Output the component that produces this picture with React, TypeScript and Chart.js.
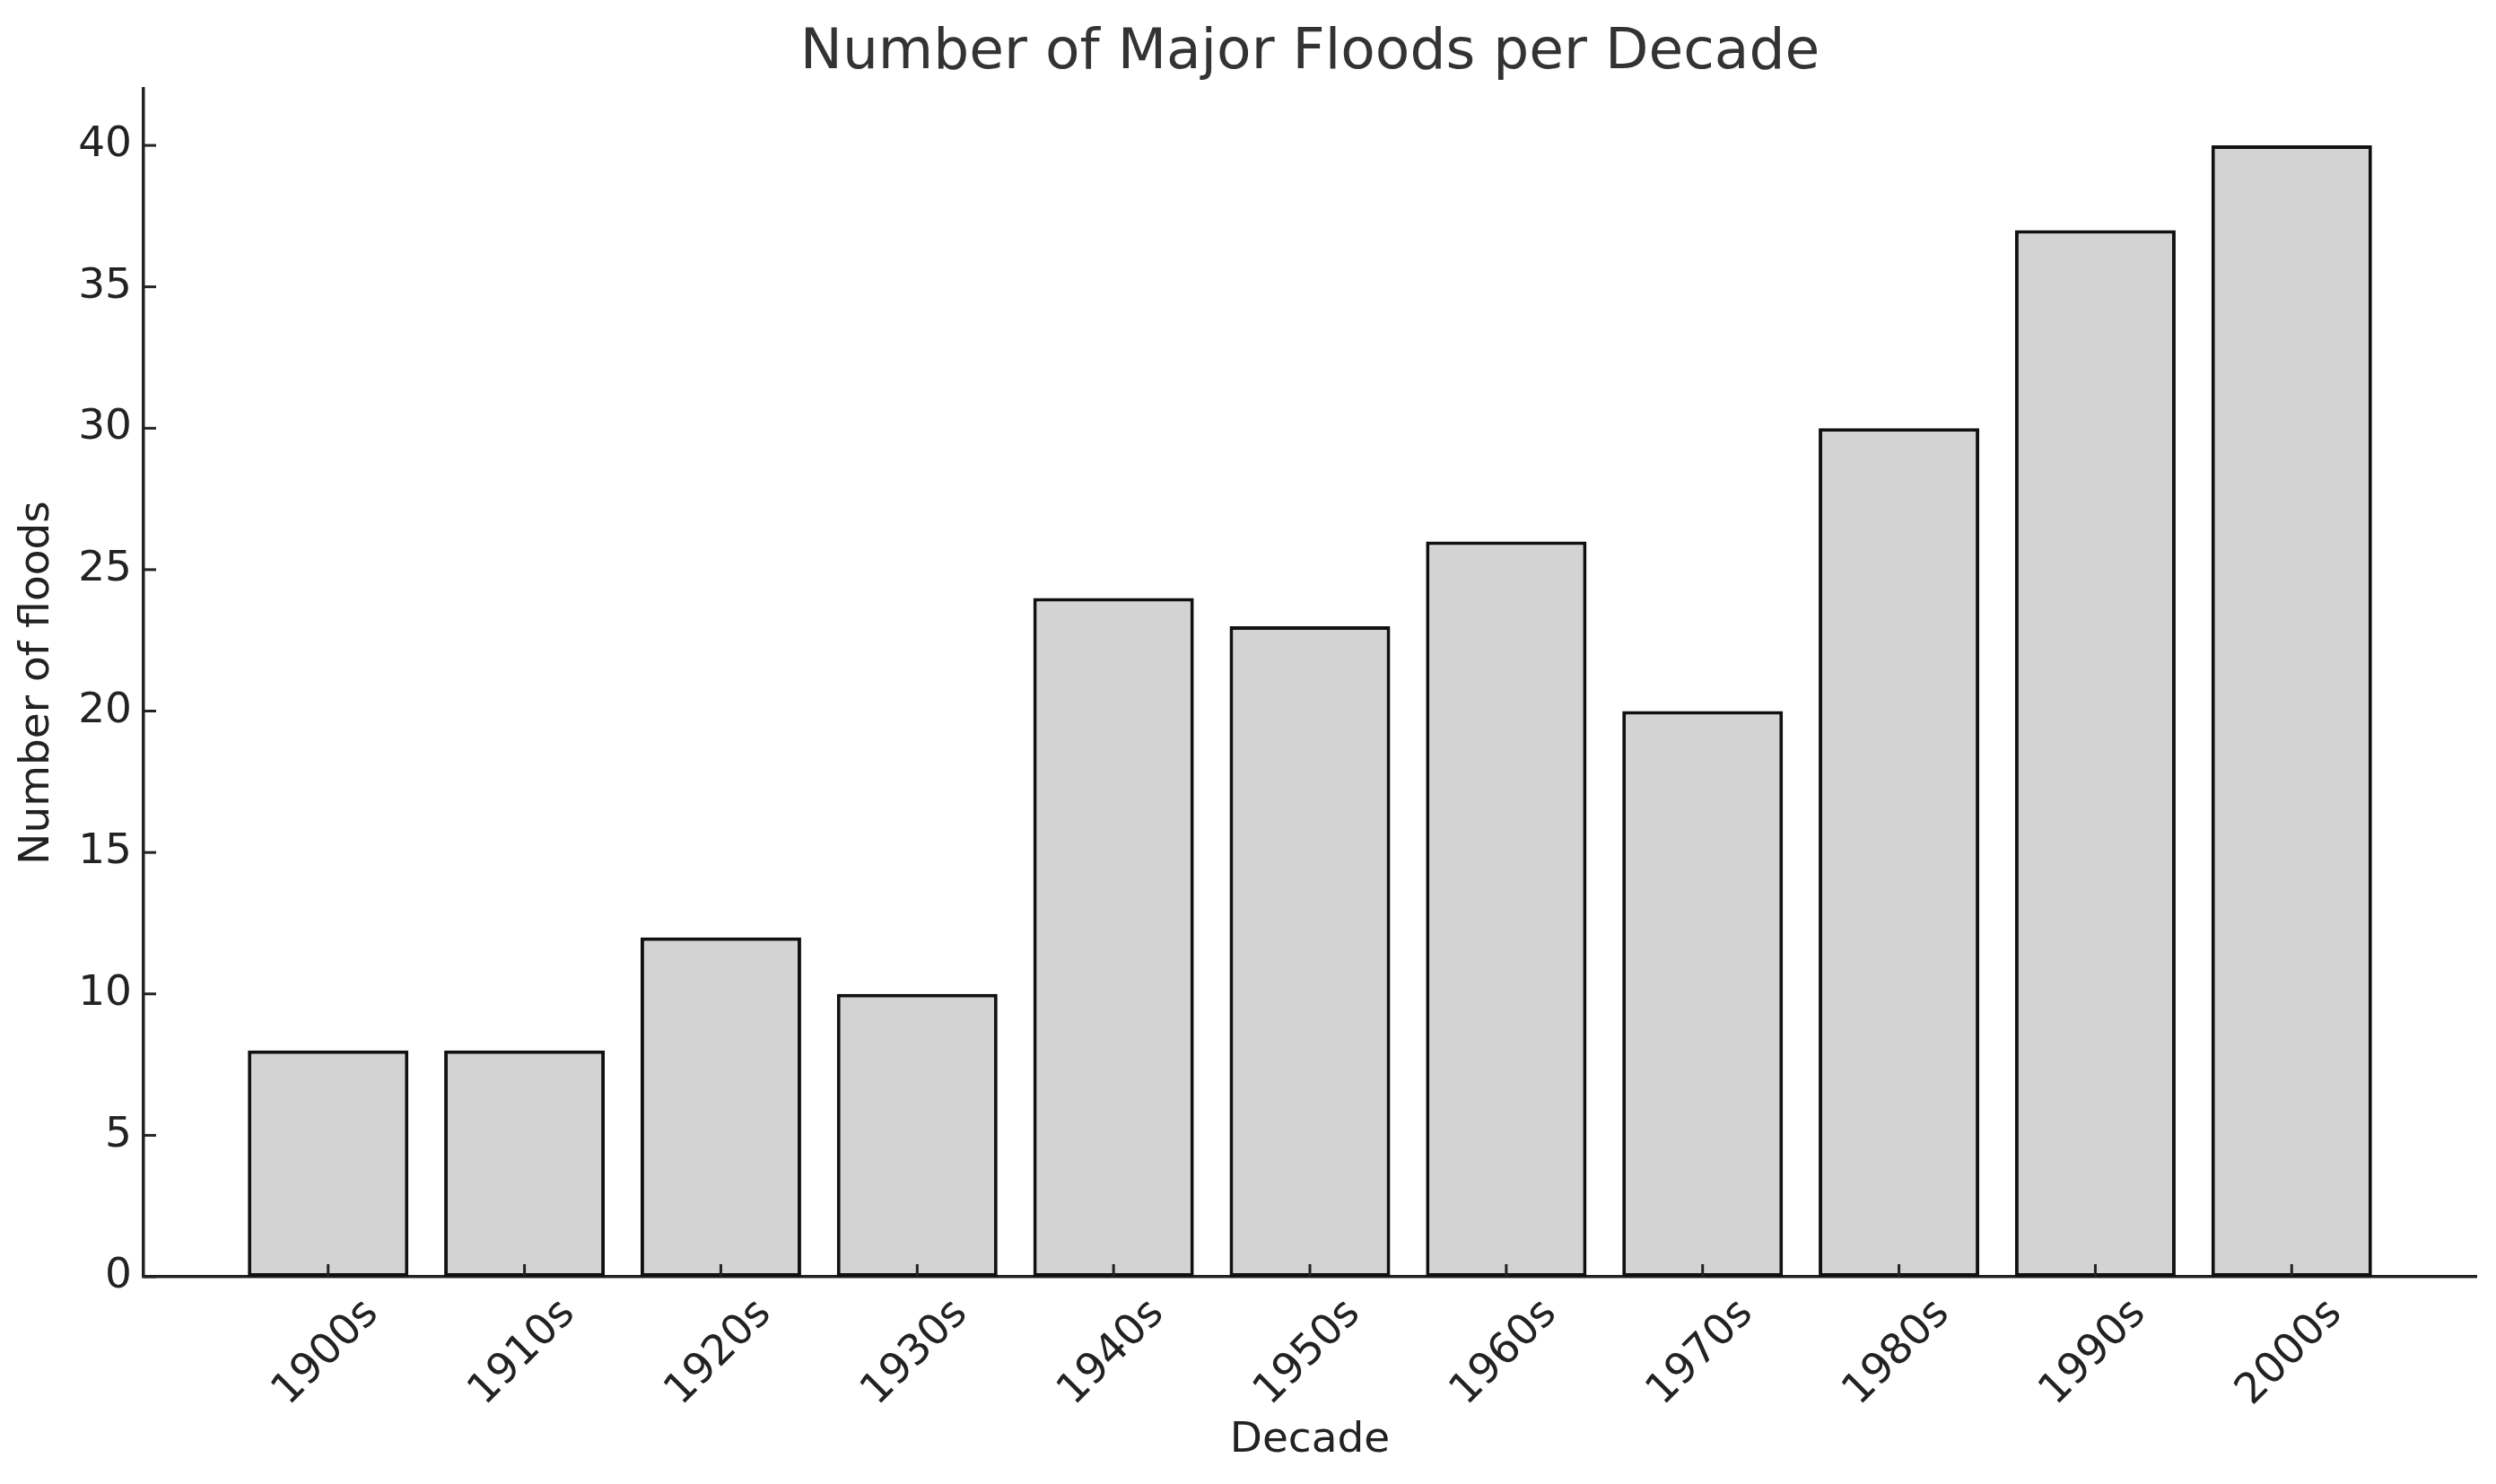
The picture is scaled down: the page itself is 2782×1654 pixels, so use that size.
import React, { useEffect, useRef } from "react";
import { Chart, registerables } from "chart.js";

Chart.register(...registerables);

const decades = ["1900s", "1910s", "1920s", "1930s", "1940s", "1950s", "1960s", "1970s", "1980s", "1990s", "2000s"];
const floods = [8, 8, 12, 10, 24, 23, 26, 20, 30, 37, 40];
const yTicks = [0, 5, 10, 15, 20, 25, 30, 35, 40];

const W = 2782;
const H = 1654;
const FONT = "'DejaVu Sans', sans-serif";

const inwardTicks = {
  id: "inwardTicks",
  afterDatasetsDraw(chart: any) {
    const { ctx, chartArea, scales } = chart;
    const len = 14;
    ctx.save();
    ctx.strokeStyle = "#222222";
    ctx.lineWidth = 3;
    scales.y.ticks.forEach((t: any) => {
      const y = scales.y.getPixelForValue(t.value);
      ctx.beginPath();
      ctx.moveTo(chartArea.left, y);
      ctx.lineTo(chartArea.left + len, y);
      ctx.stroke();
    });
    scales.x.ticks.forEach((t: any) => {
      const x = scales.x.getPixelForValue(t.value);
      ctx.beginPath();
      ctx.moveTo(x, chartArea.bottom);
      ctx.lineTo(x, chartArea.bottom - len);
      ctx.stroke();
    });
    ctx.restore();
  },
};

export default function App() {
  const ref = useRef<HTMLCanvasElement | null>(null);

  useEffect(() => {
    if (!ref.current) return;
    const chart = new Chart(ref.current, {
      type: "bar",
      data: {
        datasets: [
          {
            label: "Number of floods",
            data: floods.map((v, i) => ({ x: i, y: v })),
            backgroundColor: "#d3d3d3",
            borderColor: "#111111",
            borderWidth: 4,
            borderSkipped: false,
            barPercentage: 0.818,
            categoryPercentage: 1.0,
          },
        ],
      },
      options: {
        animation: false,
        responsive: false,
        devicePixelRatio: 1,
        layout: { padding: { left: 0, right: 22, top: 0, bottom: 0 } },
        plugins: {
          legend: { display: false },
          tooltip: { enabled: false },
          title: {
            display: true,
            fullSize: false,
            text: "Number of Major Floods per Decade",
            color: "#333333",
            font: { family: FONT, size: 63, weight: "normal", lineHeight: 1.2 },
            padding: { top: 22, bottom: 1.4 },
          },
        },
        scales: {
          x: {
            type: "linear",
            min: -0.94,
            max: 10.94,
            offset: false,
            grid: { display: false, drawTicks: false },
            border: { display: true, color: "#222222", width: 3.5 },
            afterBuildTicks: (scale: any) => {
              scale.ticks = decades.map((_, i) => ({ value: i }));
            },
            afterFit: (scale: any) => {
              scale.height = H - 1423;
              scale.paddingLeft = 0;
              scale.paddingRight = 0;
            },
            ticks: {
              autoSkip: false,
              minRotation: 45,
              maxRotation: 45,
              padding: 14,
              labelOffset: 49,
              color: "#222222",
              font: { family: FONT, size: 47, lineHeight: 1.2 },
              callback: (v: any) => decades[Math.round(Number(v))] ?? "",
            },
            title: {
              display: true,
              text: "Decade",
              color: "#222222",
              font: { family: FONT, size: 47, lineHeight: 1.2 },
              padding: { top: 0, bottom: 20 },
            },
          },
          y: {
            type: "linear",
            min: 0,
            max: 42,
            grid: { display: false, drawTicks: false },
            border: { display: true, color: "#222222", width: 3.5 },
            afterBuildTicks: (scale: any) => {
              scale.ticks = yTicks.map((v) => ({ value: v }));
            },
            afterFit: (scale: any) => {
              scale.width = 160;
              scale.paddingTop = 0;
              scale.paddingBottom = 0;
            },
            ticks: {
              padding: 13,
              color: "#222222",
              font: { family: FONT, size: 47, lineHeight: 1.2 },
            },
            title: {
              display: true,
              text: "Number of floods",
              color: "#222222",
              font: { family: FONT, size: 47, lineHeight: 1.2 },
              padding: { top: 14, bottom: 0 },
            },
          },
        },
      },
      plugins: [inwardTicks],
    });
    return () => chart.destroy();
  }, []);

  return (
    <div style={{ position: "fixed", left: 0, top: 0, width: W, height: H, background: "#ffffff" }}>
      <canvas ref={ref} width={W} height={H} style={{ width: W, height: H, display: "block" }} />
    </div>
  );
}
